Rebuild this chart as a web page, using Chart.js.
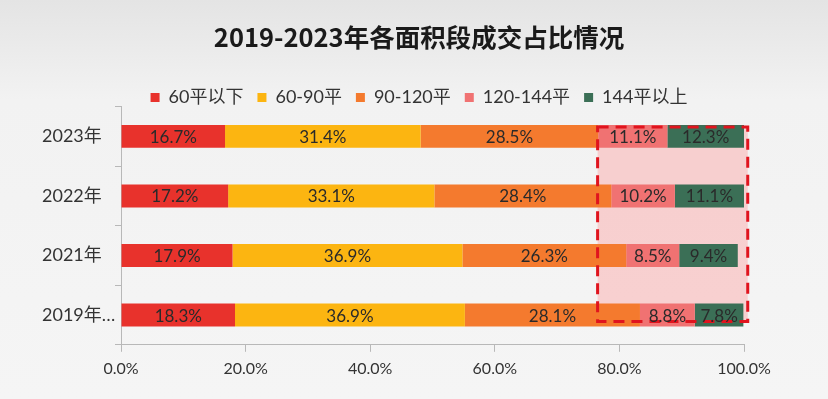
<!DOCTYPE html>
<html>
<head>
<meta charset="utf-8">
<script src="https://cdn.jsdelivr.net/npm/chart.js@4.4.1/dist/chart.umd.min.js"></script>
<style>
  html, body { margin: 0; padding: 0; background: #f3f3f3; }
  #wrap { width: 828px; height: 399px; position: relative; }
</style>
</head>
<body>
<div id="wrap"><canvas id="c" width="828" height="399"></canvas></div>
<script>
// ---- Data ----
const categories = ['2023年', '2022年', '2021年', '2019年…'];
const seriesNames = ['60平以下', '60-90平', '90-120平', '120-144平', '144平以上'];
const under60 = [16.7, 17.2, 17.9, 18.3];
const from60to90 = [31.4, 33.1, 36.9, 36.9];
const from90to120 = [28.5, 28.4, 26.3, 28.1];
const from120to144 = [11.1, 10.2, 8.5, 8.8];
const over144 = [12.3, 11.1, 9.4, 7.8];
const xTickValues = [0, 20, 40, 60, 80, 100];
const highlightRange = [76.5, 100.6]; // highlighted share range (x values)

const seriesValues = [under60, from60to90, from90to120, from120to144, over144];
const seriesColors = ['#e8322c', '#fcb511', '#f47a2e', '#f07272', '#3b6f56'];

const bgPlugin = {
  id: 'bg',
  beforeLayout(chart) {
    const lg = chart.legend;
    if (lg && !lg._patchedFit) {
      const orig = lg.fit;
      lg.fit = function () { orig.call(this); this.height -= 10; };
      lg._patchedFit = true;
    }
  },
  beforeDraw(chart) {
    const { ctx, width, height } = chart;
    ctx.save();
    const g = ctx.createLinearGradient(0, 0, 0, height);
    g.addColorStop(0, '#e4e4e4');
    g.addColorStop(0.25, '#f2f2f2');
    g.addColorStop(1, '#f5f5f5');
    ctx.fillStyle = g;
    ctx.fillRect(0, 0, width, height);
    ctx.restore();
  }
};

function highlightBox(chart) {
  const xs = chart.scales.x;
  const first = chart.getDatasetMeta(0).data[0];
  const last = chart.getDatasetMeta(0).data[categories.length - 1];
  const left = xs.getPixelForValue(highlightRange[0]);
  const right = xs.getPixelForValue(highlightRange[1]);
  const top = first.y - first.height / 2 + 2;
  const bottom = last.y + last.height / 2 - 5;
  return { left, right, top, bottom };
}

const overlayPlugin = {
  id: 'overlay',
  beforeDatasetsDraw(chart) {
    const { ctx } = chart;
    const b = highlightBox(chart);
    ctx.save();
    ctx.fillStyle = 'rgba(255,150,150,0.38)';
    ctx.fillRect(b.left, b.top, b.right - b.left, b.bottom - b.top);
    ctx.restore();
  },
  afterDatasetsDraw(chart) {
    const { ctx } = chart;
    const b = highlightBox(chart);
    ctx.save();
    ctx.strokeStyle = '#e0141e';
    ctx.lineWidth = 3;
    ctx.setLineDash([11, 7]);
    ctx.strokeRect(b.left, b.top, b.right - b.left, b.bottom - b.top);
    ctx.restore();
    // data labels
    ctx.save();
    ctx.font = '17px Lato, "Liberation Sans", sans-serif';
    ctx.fillStyle = '#2a2a2a';
    ctx.textAlign = 'center';
    ctx.textBaseline = 'middle';
    chart.data.datasets.forEach((ds, i) => {
      const meta = chart.getDatasetMeta(i);
      meta.data.forEach((el, j) => {
        const cx = (el.x + el.base) / 2;
        ctx.fillText(ds.data[j].toFixed(1) + '%', cx, el.y + 1);
      });
    });
    ctx.restore();
  }
};

const spacerAxis = (position, width) => ({
  type: 'category',
  axis: 'y',
  position,
  weight: 10,
  display: true,
  ticks: { display: false },
  grid: { display: false, drawTicks: false },
  border: { display: false },
  afterFit(scale) { scale.width = width; }
});

new Chart(document.getElementById('c'), {
  type: 'bar',
  data: {
    labels: categories,
    datasets: seriesNames.map((name, i) => ({
      label: name,
      data: seriesValues[i],
      backgroundColor: seriesColors[i],
      borderWidth: 0,
      categoryPercentage: 1,
      barPercentage: 0.385
    }))
  },
  options: {
    indexAxis: 'y',
    responsive: false,
    animation: false,
    layout: { padding: { left: 10, right: 0, top: 0, bottom: 14 } },
    plugins: {
      title: {
        display: true,
        text: '2019-2023年各面积段成交占比情况',
        color: '#1a1a1a',
        font: { family: '"Noto Sans CJK SC", sans-serif', size: 25.5, weight: 'bold' },
        padding: { top: 22, bottom: 22 }
      },
      legend: {
        display: true,
        position: 'top',
        labels: {
          boxWidth: 9,
          boxHeight: 9,
          padding: 14,
          color: '#333333',
          font: { family: 'Lato, "Noto Sans CJK SC", sans-serif', size: 18 }
        }
      },
      tooltip: { enabled: false }
    },
    scales: {
      x: {
        stacked: true,
        min: 0,
        max: 100,
        afterBuildTicks(scale) { scale.ticks = xTickValues.map(v => ({ value: v })); },
        ticks: {
          callback: v => Number(v).toFixed(1) + '%',
          color: '#333333',
          font: { family: 'Lato, sans-serif', size: 16 },
          padding: 7
        },
        grid: { drawOnChartArea: false, drawTicks: true, tickLength: 7, color: '#b8b8b8' },
        border: { display: true, color: '#b8b8b8', width: 1 }
      },
      y: {
        stacked: true,
        weight: 0,
        afterFit(scale) { scale.width = 79; },
        ticks: {
          crossAlign: 'far',
          color: '#333333',
          font: { family: 'Lato, "Noto Sans CJK SC", sans-serif', size: 18 }
        },
        grid: { drawOnChartArea: false, drawTicks: true, tickLength: 6, color: '#b8b8b8', offset: true },
        border: { display: true, color: '#b8b8b8', width: 1 }
      },
      padL: spacerAxis('left', 32),
      padR: spacerAxis('right', 84)
    }
  },
  plugins: [bgPlugin, overlayPlugin]
});
</script>
</body>
</html>
